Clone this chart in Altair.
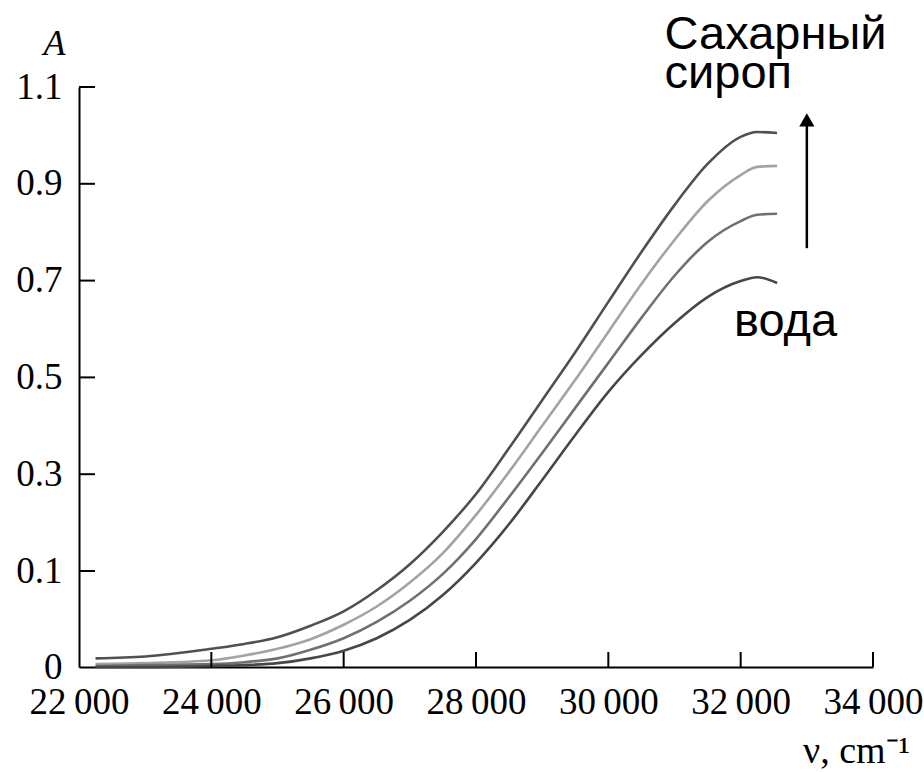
import altair as alt
import pandas as pd

# ---- data ----
nu = [22250, 23000, 24000, 24500, 25000, 25500, 26000, 26500, 27000, 27500, 28000, 28500,
      29000, 29500, 30000, 30500, 31000, 31500, 32000, 32250, 32550]
A_syrup = [0.009, 0.011, 0.019, 0.024, 0.031, 0.043, 0.058, 0.080, 0.114, 0.181, 0.259, 0.354,
           0.453, 0.552, 0.656, 0.759, 0.856, 0.941, 0.997, 1.007, 1.005]
A_2 = [0.003, 0.004, 0.007, 0.012, 0.019, 0.029, 0.044, 0.063, 0.088, 0.137, 0.216, 0.305,
       0.400, 0.495, 0.594, 0.693, 0.784, 0.864, 0.918, 0.935, 0.937]
A_3 = [0.001, 0.002, 0.003, 0.005, 0.009, 0.018, 0.030, 0.047, 0.069, 0.097, 0.166, 0.253,
       0.344, 0.437, 0.530, 0.623, 0.710, 0.780, 0.823, 0.836, 0.838]
A_water = [0.000, 0.000, 0.001, 0.002, 0.004, 0.009, 0.017, 0.030, 0.049, 0.075, 0.117, 0.197,
           0.288, 0.381, 0.470, 0.546, 0.612, 0.666, 0.699, 0.707, 0.695]

series_names = ["Сахарный сироп", "2", "3", "вода"]
series_values = [A_syrup, A_2, A_3, A_water]
series_colors = ["#505050", "#a3a3a3", "#707070", "#474747"]

x_ticks = [22000, 24000, 26000, 28000, 30000, 32000, 34000]
y_ticks = [0, 0.1, 0.3, 0.5, 0.7, 0.9, 1.1]

# annotations
ann_text = ["Сахарный", "сироп", "вода"]
ann_nu = [30850, 30850, 31900]
ann_A = [1.178, 1.098, 0.586]
arrow_nu = [33000]
arrow_from = [0.767]
arrow_to = [1.032]

# ---- build tables ----
rows = []
for name, vals in zip(series_names, series_values):
    for x, y in zip(nu, vals):
        rows.append({"nu": x, "A": y, "series": name})
lines_df = pd.DataFrame(rows)
xt_df = pd.DataFrame({"nu": x_ticks[1:]})
yt_df = pd.DataFrame({"A": y_ticks[1:]})
ann_df = pd.DataFrame({"nu": ann_nu, "A": ann_A, "label": ann_text})
arrow_df = pd.DataFrame({"nu": arrow_nu, "A": arrow_from, "A2": arrow_to})
head_df = pd.DataFrame({"nu": arrow_nu, "A": arrow_to})

W, H = 794, 580
serif = "Liberation Serif"

xscale = alt.Scale(domain=[22000, 34000], nice=False, zero=False)
yscale = alt.Scale(domain=[0, 0.1, 1.1], range=[H, H - 96, 0], nice=False, zero=False)

xaxis = alt.Axis(
    values=x_ticks, ticks=False, tickSize=0, grid=False,
    labelFont=serif, labelFontSize=37, labelColor="black", labelPadding=17,
    labelFlush=False,
    labelExpr="replace(format(datum.value, ','), ',', '\u2009')",
    domainColor="black", domainWidth=2,
    title="ν, cm⁻¹", titleFont=serif, titleFontSize=38, titleFontWeight="normal",
    titleColor="black", titleX=777, titleY=95, titleAlign="center",
    titleBaseline="alphabetic", titleAnchor="start",
)
yaxis = alt.Axis(
    values=y_ticks, ticks=False, tickSize=0, grid=False,
    labelFont=serif, labelFontSize=37, labelColor="black", labelPadding=17,
    labelFlush=False,
    labelExpr="datum.value == 0 ? '0' : format(datum.value, '.1f')",
    domainColor="black", domainWidth=2,
    title="A", titleFont=serif, titleFontSize=36, titleFontStyle="italic",
    titleFontWeight="normal", titleColor="black", titleAngle=0,
    titleX=-25, titleY=-33, titleAlign="center", titleBaseline="alphabetic",
)

X = alt.X("nu:Q", scale=xscale, axis=xaxis)
Y = alt.Y("A:Q", scale=yscale, axis=yaxis)

lines = alt.Chart(lines_df).mark_line(strokeWidth=2.6, interpolate="monotone").encode(
    x=X, y=Y,
    color=alt.Color("series:N", scale=alt.Scale(domain=series_names, range=series_colors),
                    legend=None),
    detail="series:N",
)

xticks = alt.Chart(xt_df).mark_rule(color="black", strokeWidth=2).encode(
    x=X, y=alt.value(H), y2=alt.value(H - 15)
)
yticks = alt.Chart(yt_df).mark_rule(color="black", strokeWidth=2).encode(
    y=Y, x=alt.value(0), x2=alt.value(16)
)

labels = alt.Chart(ann_df).mark_text(
    align="left", baseline="alphabetic", font="Liberation Sans", fontSize=47, color="black"
).encode(x=X, y=Y, text="label:N")

arrow = alt.Chart(arrow_df).mark_rule(color="black", strokeWidth=2.5).encode(
    x=X, y=Y, y2=alt.Y2("A2:Q")
)
head = alt.Chart(head_df).mark_point(
    shape="triangle-up", filled=True, size=230, color="black", opacity=1
).encode(x=X, y=Y)

chart = alt.layer(lines, xticks, yticks, labels, arrow, head).properties(
    width=W, height=H,
    autosize=alt.AutoSizeParams(type="none"),
    padding={"left": 79, "top": 87, "right": 51, "bottom": 105},
    background="white",
).configure_view(stroke=None)

chart.save("out.html", embed_options={"renderer": "svg", "actions": False})
